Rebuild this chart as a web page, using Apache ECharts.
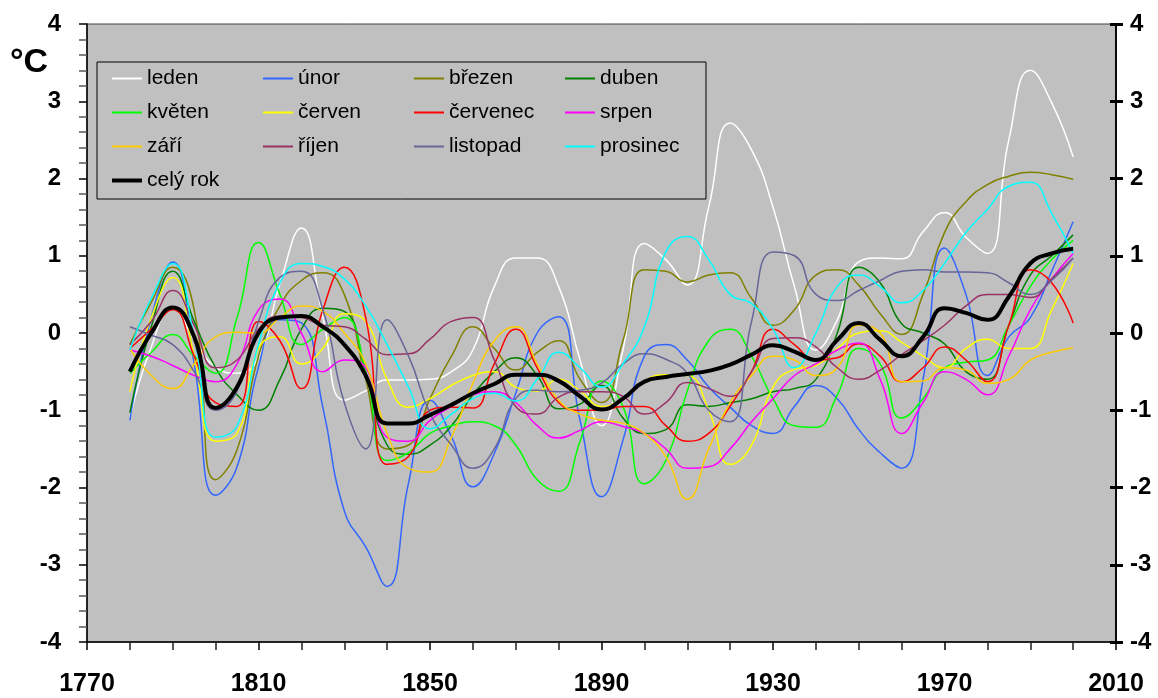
<!DOCTYPE html>
<html>
<head>
<meta charset="utf-8">
<script src="https://cdn.jsdelivr.net/npm/echarts@6/dist/echarts.min.js"></script>
<style>
  html, body { margin: 0; padding: 0; background: #fff; }
  #chart { width: 1158px; height: 698px; }
</style>
</head>
<body>
<div id="chart"></div>
<script>
// roky 1780..2000 po 5 letech
const years = [1780, 1785, 1790, 1795, 1800, 1805, 1810, 1815, 1820, 1825, 1830, 1835, 1840, 1845, 1850,
  1855, 1860, 1865, 1870, 1875, 1880, 1885, 1890, 1895, 1900, 1905, 1910, 1915, 1920, 1925,
  1930, 1935, 1940, 1945, 1950, 1955, 1960, 1965, 1970, 1975, 1980, 1985, 1990, 1995, 2000];

const leden = [-1.1, -0.18, 0.34, -0.09, -0.44, -0.52, -0.31, 0.64, 1.36, 0.21, -0.87, -0.75, -0.61, -0.61, -0.6,
  -0.5, -0.22, 0.6, 0.97, 0.97, 0.6, -0.35, -1.2, -0.22, 1.16, 0.95, 0.62, 1.63, 2.72, 2.37,
  1.63, 0.6, -0.22, 0.17, 0.92, 0.97, 0.96, 1.31, 1.56, 1.24, 1.03, 2.5, 3.4, 2.98, 2.28];
const unor = [-1.13, 0.2, 0.92, -0.4, -2.1, -1.73, -0.44, 0.17, 0.13, -0.96, -2.3, -2.77, -3.28, -1.94, -0.87,
  -1.34, -1.99, -1.56, -0.78, 0.0, 0.21, -1.13, -2.12, -1.39, -0.3, -0.15, -0.35, -0.7, -0.96, -1.2,
  -1.3, -0.95, -0.68, -0.85, -1.25, -1.55, -1.75, -0.6, 1.1, 0.5, -0.55, -0.05, 0.2, 0.8, 1.44];
const brezen = [-0.15, 0.4, 0.85, 0.3, -1.9, -1.51, -0.3, 0.35, 0.68, 0.78, 0.5, -0.6, -1.5, -1.45, -0.85,
  -0.3, 0.08, -0.2, -0.48, -0.25, -0.1, -0.6, -0.9, -0.1, 0.82, 0.8, 0.66, 0.75, 0.78, 0.45,
  0.1, 0.3, 0.75, 0.82, 0.62, 0.25, -0.02, 0.5, 1.3, 1.7, 1.92, 2.03, 2.08, 2.05, 1.99];
const duben = [-1.03, 0.08, 0.8, 0.15, -0.45, -0.8, -1.0, -0.6, 0.05, 0.32, 0.28, -0.5, -1.45, -1.57, -1.45,
  -1.2, -0.8, -0.5, -0.32, -0.55, -0.98, -0.92, -0.68, -1.1, -1.3, -1.25, -0.93, -0.95, -0.9, -0.85,
  -0.76, -0.72, -0.6, 0.0, 0.85, 0.65, 0.12, 0.0, -0.14, -0.5, -0.6, 0.1, 0.75, 1.0, 1.27];
const kveten = [-0.52, -0.25, -0.02, -0.3, -0.52, 0.2, 1.17, 0.5, -0.15, 0.05, 0.2, -0.5, -1.65, -1.55, -1.3,
  -1.2, -1.15, -1.2, -1.45, -1.9, -2.05, -1.4, -0.62, -0.95, -1.95, -1.65, -0.75, -0.1, 0.05, -0.3,
  -0.85, -1.2, -1.22, -0.8, -0.2, -0.4, -1.1, -0.85, -0.45, -0.38, -0.35, 0.1, 0.6, 0.95, 1.2];
const cerven = [-0.76, 0.2, 0.72, -0.3, -1.4, -1.3, -0.2, -0.05, -0.4, -0.2, 0.25, 0.15, -0.6, -0.96, -0.85,
  -0.68, -0.55, -0.5, -0.7, -0.75, -0.6, -0.75, -0.95, -0.85, -0.62, -0.54, -0.55, -1.0, -1.7, -1.45,
  -0.7, -0.47, -0.42, -0.2, 0.0, 0.03, -0.12, -0.3, -0.45, -0.2, -0.08, -0.2, -0.2, 0.3, 0.9];
const cervenec = [-0.2, 0.05, 0.3, -0.3, -0.9, -0.95, 0.15, -0.1, -0.72, 0.3, 0.85, 0.2, -1.7, -1.6, -1.0,
  -0.96, -0.97, -0.4, 0.05, -0.45, -0.9, -1.0, -1.0, -0.95, -0.95, -1.2, -1.4, -1.3, -0.95, -0.5,
  0.05, -0.15, -0.35, -0.32, -0.14, -0.3, -0.63, -0.45, -0.18, -0.35, -0.63, 0.1, 0.82, 0.65, 0.13];
const srpen = [-0.22, -0.3, -0.42, -0.55, -0.63, -0.4, 0.3, 0.44, 0.0, -0.5, -0.35, -0.45, -1.35, -1.4, -1.13,
  -0.95, -0.8, -0.76, -0.9, -1.2, -1.36, -1.26, -1.15, -1.21, -1.3, -1.5, -1.75, -1.73, -1.5, -1.15,
  -0.85, -0.55, -0.4, -0.22, -0.13, -0.6, -1.3, -0.9, -0.5, -0.6, -0.8, -0.3, 0.3, 0.7, 1.03];
const zari = [-0.2, -0.55, -0.72, -0.4, -0.05, 0.01, 0.0, 0.2, 0.35, 0.28, 0.0, -0.4, -1.3, -1.75, -1.8,
  -1.35, -0.65, -0.1, 0.08, -0.4, -0.87, -1.05, -1.13, -1.17, -1.3, -1.6, -2.15, -1.5, -0.9, -0.55,
  -0.3, -0.35, -0.55, -0.45, 0.1, 0.0, -0.63, -0.62, -0.45, -0.48, -0.65, -0.6, -0.35, -0.25, -0.19];
const rijen = [-0.15, 0.15, 0.55, 0.1, -0.45, -0.35, 0.05, 0.22, 0.2, 0.1, 0.08, -0.08, -0.28, -0.27, -0.08,
  0.15, 0.2, -0.35, -0.95, -1.05, -0.83, -0.76, -0.76, -0.82, -1.05, -0.9, -0.64, -0.72, -0.82, -0.5,
  -0.07, -0.06, -0.18, -0.45, -0.6, -0.48, -0.28, -0.1, 0.1, 0.35, 0.5, 0.5, 0.46, 0.7, 0.97];
const listopad = [0.08, -0.03, -0.15, -0.5, -1.0, -0.75, 0.15, 0.72, 0.8, 0.3, -0.9, -1.5, 0.17, -0.3, -1.04,
  -1.45, -1.75, -1.5, -0.85, -0.74, -0.76, -0.74, -0.65, -0.4, -0.27, -0.34, -0.52, -1.0, -1.15, 0.15,
  1.05, 1.0, 0.5, 0.42, 0.55, 0.68, 0.8, 0.82, 0.79, 0.79, 0.78, 0.65, 0.5, 0.68, 0.97];
const prosinec = [-0.22, 0.45, 0.9, -0.05, -1.35, -1.2, -0.15, 0.65, 0.9, 0.86, 0.7, 0.35, -0.15, -0.7, -1.24,
  -1.05, -0.85, -0.78, -0.88, -0.6, -0.25, -0.45, -0.7, -0.4, 0.08, 1.05, 1.25, 0.95, 0.5, 0.38,
  0.05, -0.45, 0.0, 0.6, 0.75, 0.6, 0.39, 0.55, 0.9, 1.3, 1.6, 1.9, 1.95, 1.55, 1.03];
const celyRok = [-0.5, 0.0, 0.33, -0.05, -0.97, -0.7, 0.0, 0.2, 0.22, 0.08, -0.15, -0.55, -1.17, -1.17, -1.06,
  -0.93, -0.78, -0.66, -0.54, -0.54, -0.62, -0.82, -0.99, -0.85, -0.63, -0.57, -0.53, -0.49, -0.41, -0.28,
  -0.16, -0.24, -0.35, -0.09, 0.13, -0.09, -0.3, -0.05, 0.32, 0.26, 0.17, 0.47, 0.9, 1.03, 1.09];

const seriesDefs = [
  { name: 'leden', data: leden, color: '#FFFFFF' },
  { name: 'únor', data: unor, color: '#3366FF' },
  { name: 'březen', data: brezen, color: '#808000' },
  { name: 'duben', data: duben, color: '#008000' },
  { name: 'květen', data: kveten, color: '#00FF00' },
  { name: 'červen', data: cerven, color: '#FFFF00' },
  { name: 'červenec', data: cervenec, color: '#FF0000' },
  { name: 'srpen', data: srpen, color: '#FF00FF' },
  { name: 'září', data: zari, color: '#FFCC00' },
  { name: 'říjen', data: rijen, color: '#993366' },
  { name: 'listopad', data: listopad, color: '#666699' },
  { name: 'prosinec', data: prosinec, color: '#00FFFF' },
  { name: 'celý rok', data: celyRok, color: '#000000', width: 4 }
];

const font = 'Arial, "Liberation Sans", sans-serif';
const chart = echarts.init(document.getElementById('chart'));

const series = seriesDefs.map(s => ({
  name: s.name,
  type: 'line',
  smooth: 0.5,
  symbol: 'none',
  data: years.map((y, i) => [y, s.data[i]]),
  lineStyle: { color: s.color, width: s.width || 1.5 },
  itemStyle: { color: s.color },
  z: s.width ? 5 : 2
}));

const option = {
  animation: false,
  backgroundColor: '#FFFFFF',
  grid: {
    left: 87, right: 42, top: 24, bottom: 56,
    show: true,
    backgroundColor: '#C0C0C0',
    borderColor: '#404040',
    borderWidth: 1
  },
  legend: {
    left: 97, top: 62,
    orient: 'horizontal',
    width: 600,
    padding: [6, 4, 8, 13],
    itemWidth: 30,
    itemHeight: 14,
    itemGap: 13,
    borderColor: '#000',
    borderWidth: 1,
    itemStyle: { opacity: 0 },
    textStyle: { fontFamily: font, fontSize: 21, color: '#000', width: 102, lineHeight: 20 },
    data: seriesDefs.map(s => s.width
      ? { name: s.name, lineStyle: { width: s.width, color: s.color } }
      : { name: s.name, lineStyle: { width: 2, color: s.color } })
  },
  xAxis: {
    type: 'value',
    min: 1770, max: 2010, interval: 40,
    axisLine: { onZero: false, lineStyle: { color: '#000', width: 1.5 } },
    axisTick: { length: 8, lineStyle: { color: '#000', width: 1.5 } },
    minorTick: { show: true, splitNumber: 4, length: 8, lineStyle: { color: '#222', width: 1.5 } },
    splitLine: { show: false },
    axisLabel: {
      fontFamily: font, fontSize: 25, fontWeight: 'bold', color: '#000', margin: 30,
      formatter: v => String(v)
    }
  },
  yAxis: [
    {
      type: 'value', position: 'left',
      min: -4, max: 4, interval: 1,
      axisLine: { show: true, lineStyle: { color: '#000', width: 1.5 } },
      axisTick: { length: 8, lineStyle: { color: '#000', width: 1.5 } },
      minorTick: { show: true, splitNumber: 5, length: 8, lineStyle: { color: '#555', width: 1.5 } },
      splitLine: { show: false },
      axisLabel: { fontFamily: font, fontSize: 24, fontWeight: 'bold', color: '#000', margin: 26 }
    },
    {
      type: 'value', position: 'right',
      min: -4, max: 4, interval: 1,
      axisLine: { show: true, lineStyle: { color: '#000', width: 1.5 } },
      axisTick: { length: 7, lineStyle: { color: '#000', width: 3 } },
      splitLine: { show: false },
      axisLabel: { fontFamily: font, fontSize: 24, fontWeight: 'bold', color: '#000', margin: 14 }
    },
    {
      type: 'value', position: 'right', offset: 0,
      min: -4, max: 4, interval: 1,
      axisLine: { show: true, lineStyle: { color: '#000', width: 1.5 } },
      axisTick: { inside: true, length: 6, lineStyle: { color: '#000', width: 3 } },
      splitLine: { show: false },
      axisLabel: { show: false }
    }
  ],
  graphic: [
    {
      type: 'text', left: 10, top: 46,
      style: { text: '°C', font: 'bold 34px ' + font, fill: '#000' }
    }
  ],
  series: series
};

chart.setOption(option);
</script>
</body>
</html>
